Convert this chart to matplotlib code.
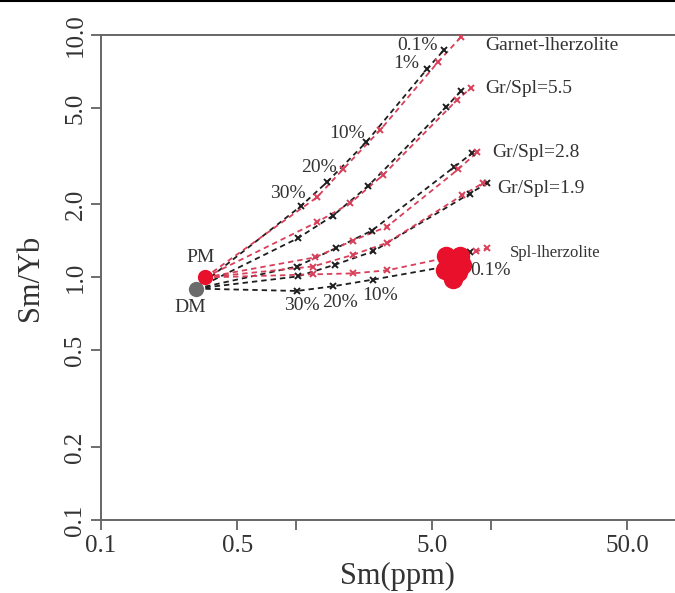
#
# Sm vs Sm/Yb melting model curves (DM and PM sources)
#

import numpy as np
import matplotlib.pyplot as plt
from matplotlib.lines import Line2D
from matplotlib.ticker import FixedLocator, FixedFormatter, NullLocator

plt.rcParams['font.family'] = ['Liberation Serif', 'DejaVu Serif']

# source compositions
pm_sm, pm_ratio = 0.341, 1.00
dm_sm, dm_ratio = 0.307, 0.90

curve_names = ['Garnet-lherzolite', 'Gr/Spl=5.5', 'Gr/Spl=2.8', 'Gr/Spl=1.9', 'Spl-lherzolite']
melt_degree = ['30%', '20%', '10%', '1%', '0.1%']

# melts of DM (black), order: 30%, 20%, 10%, 1%, 0.1%
dm_melt_sm = [
    [1.06, 1.44, 2.29, 4.70, 5.74],
    [1.02, 1.55, 2.34, 5.88, 7.02],
    [1.01, 1.60, 2.45, 6.46, 7.99],
    [1.02, 1.59, 2.48, 7.81, 9.54],
    [1.01, 1.55, 2.48, 6.31, 7.81],
]
dm_melt_ratio = [
    [1.97, 2.47, 3.61, 7.24, 8.67],
    [1.45, 1.80, 2.38, 5.04, 5.87],
    [1.11, 1.32, 1.56, 2.85, 3.25],
    [1.01, 1.13, 1.28, 2.22, 2.45],
    [0.88, 0.92, 0.98, 1.12, 1.27],
]

# melts of PM (red)
pm_melt_sm = [
    [1.28, 1.74, 2.70, 5.35, 7.02],
    [1.28, 1.89, 2.79, 6.69, 7.90],
    [1.25, 1.96, 2.93, 6.78, 8.48],
    [1.22, 1.96, 2.93, 7.10, 9.10],
    [1.22, 1.96, 2.93, 8.38, 9.54],
]
pm_melt_ratio = [
    [2.14, 2.79, 4.05, 7.73, 9.81],
    [1.69, 2.02, 2.64, 5.39, 6.04],
    [1.21, 1.42, 1.62, 2.79, 3.28],
    [1.11, 1.24, 1.39, 2.18, 2.45],
    [1.03, 1.04, 1.07, 1.28, 1.32],
]

# cluster of samples
blob_sm = [5.88, 6.94, 5.81, 6.78, 6.31, 6.38, 7.10]
blob_ratio = [1.23, 1.23, 1.07, 1.05, 1.15, 0.99, 1.13]

x_ticks = [0.1, 0.5, 1.0, 5.0, 10.0, 50.0]
x_ticklabels = ['0.1', '0.5', '', '5.0', '', '50.0']
y_ticks = [0.1, 0.2, 0.5, 1.0, 2.0, 5.0, 10.0]
y_ticklabels = ['0.1', '0.2', '0.5', '1.0', '2.0', '5.0', '10.0']

black = '#1e1e1e'
red = '#d8405a'
grey_txt = '#333333'

fig = plt.figure(figsize=(6.75, 5.93), dpi=100)
ax = fig.add_axes([0.1496, 0.1231, 0.8504, 0.8179])
ax.set_xscale('log')
ax.set_yscale('log')
ax.set_xlim(0.1, 87.9)
ax.set_ylim(0.1, 10.0)

# curves
for i in range(len(curve_names)):
    xs = [dm_sm] + dm_melt_sm[i]
    ys = [dm_ratio] + dm_melt_ratio[i]
    ax.plot(xs, ys, ls=(0, (3, 2.2)), color=black, lw=1.3, zorder=3)
    ax.plot(dm_melt_sm[i], dm_melt_ratio[i], ls='none', marker='x', ms=4.5,
            mew=1.4, color=black, zorder=4)
    xs = [pm_sm] + pm_melt_sm[i]
    ys = [pm_ratio] + pm_melt_ratio[i]
    ax.plot(xs, ys, ls=(0, (3, 2.2)), color=red, lw=1.3, zorder=3)
    ax.plot(pm_melt_sm[i], pm_melt_ratio[i], ls='none', marker='x', ms=4.5,
            mew=1.4, color=red, zorder=4)

# samples and sources
ax.plot(blob_sm, blob_ratio, ls='none', marker='o', ms=14, color='#e8102a',
        mec='none', zorder=5)
ax.plot([dm_sm], [dm_ratio], ls='none', marker='o', ms=11, color='#6b6b6b', mec='none', zorder=6)
ax.plot([pm_sm], [pm_ratio], ls='none', marker='o', ms=11, color='#e8102a', mec='none', zorder=7)

fs = 14
ax.annotate('PM', (pm_sm, pm_ratio), xytext=(-4, 20), textcoords='offset pixels',
            ha='center', va='center', fontsize=fs, color=grey_txt)
ax.annotate('DM', (dm_sm, dm_ratio), xytext=(-6, -19), textcoords='offset pixels',
            ha='center', va='center', fontsize=fs, color=grey_txt)

# curve names next to the 0.1% melt of PM
name_offsets = [(24, -8), (14, 0), (15, 0), (14, -5), (23, -5)]
for i, name in enumerate(curve_names):
    size = 12 if i == 4 else fs
    ax.annotate(name, (pm_melt_sm[i][4], pm_melt_ratio[i][4]), xytext=name_offsets[i],
                textcoords='offset pixels', ha='left', va='center', fontsize=size,
                color=grey_txt)

# melting degrees along the garnet-lherzolite curve
garnet_offsets = [(5, 13), (10, 15), (-1, 9), (-8, 6), (-6, 5)]
for j, lab in enumerate(melt_degree):
    ax.annotate(lab, (dm_melt_sm[0][j], dm_melt_ratio[0][j]), xytext=garnet_offsets[j],
                textcoords='offset pixels', ha='right', va='center', fontsize=fs,
                color=grey_txt)

# melting degrees along the spinel-lherzolite curve
spl_offsets = {0: (5, -15), 1: (7, -16), 2: (7, -16), 4: (0, -18)}
for j, off in spl_offsets.items():
    ax.annotate(melt_degree[j], (dm_melt_sm[4][j], dm_melt_ratio[4][j]), xytext=off,
                textcoords='offset pixels', ha='left' if j == 4 else 'center',
                va='center', fontsize=fs, color=grey_txt, zorder=8)

# axes styling
ax.xaxis.set_major_locator(FixedLocator(x_ticks))
ax.xaxis.set_major_formatter(FixedFormatter(x_ticklabels))
ax.xaxis.set_minor_locator(NullLocator())
ax.yaxis.set_major_locator(FixedLocator(y_ticks))
ax.yaxis.set_major_formatter(FixedFormatter(y_ticklabels))
ax.yaxis.set_minor_locator(NullLocator())
ax.tick_params(axis='both', direction='out', length=7, width=1.2, colors='#555555',
               labelsize=18, labelcolor=grey_txt)
ax.tick_params(axis='x', pad=4)
for lab in ax.get_yticklabels():
    lab.set_rotation(90)
    lab.set_va('center')
for side in ['left', 'bottom', 'top']:
    ax.spines[side].set_color('#666666')
    ax.spines[side].set_linewidth(1.4)
ax.spines['right'].set_visible(False)

ax.set_xlabel('Sm(ppm)', fontsize=22, color=grey_txt, va='top')
ax.xaxis.set_label_coords(0.516, -0.087)
ax.set_ylabel('Sm/Yb', fontsize=22, color=grey_txt, labelpad=14)

# page border at the very top
fig.add_artist(Line2D([0, 1], [0.998, 0.998], color='black', lw=1.5))

fig.savefig('out.png', dpi=100)
